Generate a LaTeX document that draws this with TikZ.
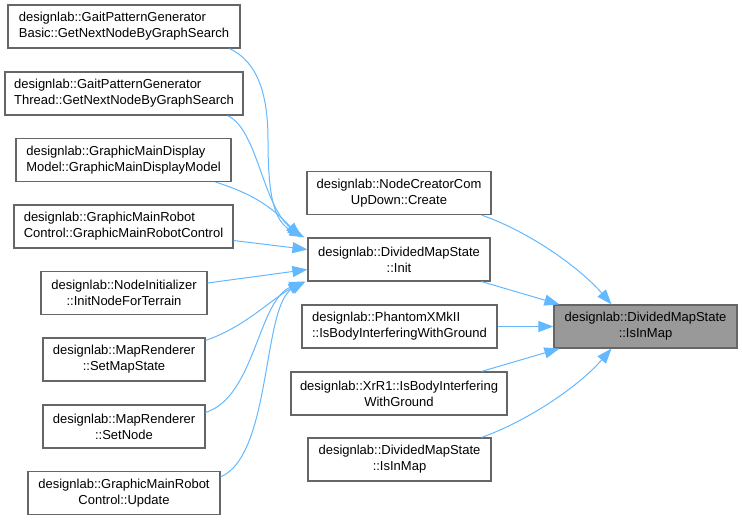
\documentclass[tikz,border=0pt]{standalone}
\usepackage{fontspec}
\setmainfont{Liberation Sans}
\usetikzlibrary{arrows.meta}
\definecolor{linkblue}{HTML}{63B8FF}
\definecolor{boxgray}{HTML}{666666}
\definecolor{hlgray}{HTML}{999999}
\begin{document}
\begin{tikzpicture}
    [
    x=1pt, y=-1pt,
    box/.style={draw=boxgray,line width=1.2pt,fill=white,minimum height=43pt,inner sep=0pt,
      font=\fontsize{13}{16}\selectfont,align=center},
    call/.style={draw=linkblue,line width=1pt,-{Triangle[length=15pt,width=11pt]}}
    ]
    \useasboundingbox (0,0) rectangle (742,520);
    \node (basic) at (124,26.5) [box,align=left,minimum width=232pt] {designlab::GaitPatternGenerator\\Basic::GetNextNodeByGraphSearch};
    \node (thread) at (124,93.5) [box,align=left,minimum width=238pt] {designlab::GaitPatternGenerator\\Thread::GetNextNodeByGraphSearch};
    \node (disp) at (123.5,160) [box,align=left,minimum width=215pt] {designlab::GraphicMainDisplay\\Model::GraphicMainDisplayModel};
    \node (ctrl) at (123.5,226.5) [box,align=left,minimum width=219pt] {designlab::GraphicMainRobot\\Control::GraphicMainRobotControl};
    \node (ninit) at (124,293) [box,minimum width=166pt] {designlab::NodeInitializer\\::InitNodeForTerrain};
    \node (setms) at (124,359.5) [box,minimum width=162pt] {designlab::MapRenderer\\::SetMapState};
    \node (setnode) at (124,426.5) [box,minimum width=162pt] {designlab::MapRenderer\\::SetNode};
    \node (update) at (124,493) [box,minimum width=192pt] {designlab::GraphicMainRobot\\Control::Update};
    \node (create) at (399,193) [box,minimum width=184pt] {designlab::NodeCreatorCom\\UpDown::Create};
    \node (init) at (399,259.5) [box,minimum width=182pt] {designlab::DividedMapState\\::Init};
    \node (phantom) at (399.5,326.5) [box,align=left,minimum width=195pt] {designlab::PhantomXMkII\\::IsBodyInterferingWithGround};
    \node (xrr1) at (399,393.5) [box,minimum width=216pt] {designlab::XrR1::IsBodyInterfering\\WithGround};
    \node (isinmap) at (399.5,459.5) [box,minimum width=183pt] {designlab::DividedMapState\\::IsInMap};
    \node (target) at (645.5,326.5) [box,fill=hlgray,minimum width=183pt] {designlab::DividedMapState\\::IsInMap};

    \draw [call] ([xshift=-11pt]basic.south east) .. controls (258,62) and (268,95) .. (268,140)
      .. controls (268,200) and (275,222) .. ([xshift=-3pt]init.north west);
    \draw [call] ([xshift=-16pt]thread.south east) .. controls (258,130) and (262,205) .. ([xshift=-5pt]init.north west);
    \draw [call] ([xshift=-16pt]disp.south east) .. controls (250,193) and (270,205) .. ([xshift=-7pt]init.north west);
    \draw [call] ([yshift=-14pt]ctrl.east) -- ([yshift=10pt]init.west);
    \draw [call] ([yshift=10pt]ninit.east) -- ([yshift=-10pt]init.west);
    \draw [call] ([yshift=-3pt]setms.north east) .. controls (245,327) and (270,300) .. ([xshift=-4pt]init.south west);
    \draw [call] ([yshift=-8pt]setnode.north east) .. controls (255,397) and (258,300) .. ([xshift=-3pt]init.south west);
    \draw [call] ([yshift=-6pt]update.north east) .. controls (272,455) and (262,305) .. ([xshift=-2pt]init.south west);

    \draw [call] ([xshift=-10pt]create.south east) .. controls (530,232) and (580,268) .. ([xshift=-34pt]target.north);
    \draw [call] ([xshift=-9pt]init.south east) -- ([xshift=6pt]target.north west);
    \draw [call] (phantom.east) -- (target.west);
    \draw [call] ([xshift=-26pt]xrr1.north east) -- ([xshift=6pt]target.south west);
    \draw [call] ([xshift=-10pt]isinmap.north east) .. controls (530,420) and (580,385) .. ([xshift=-34pt]target.south);
\end{tikzpicture}
\end{document}
